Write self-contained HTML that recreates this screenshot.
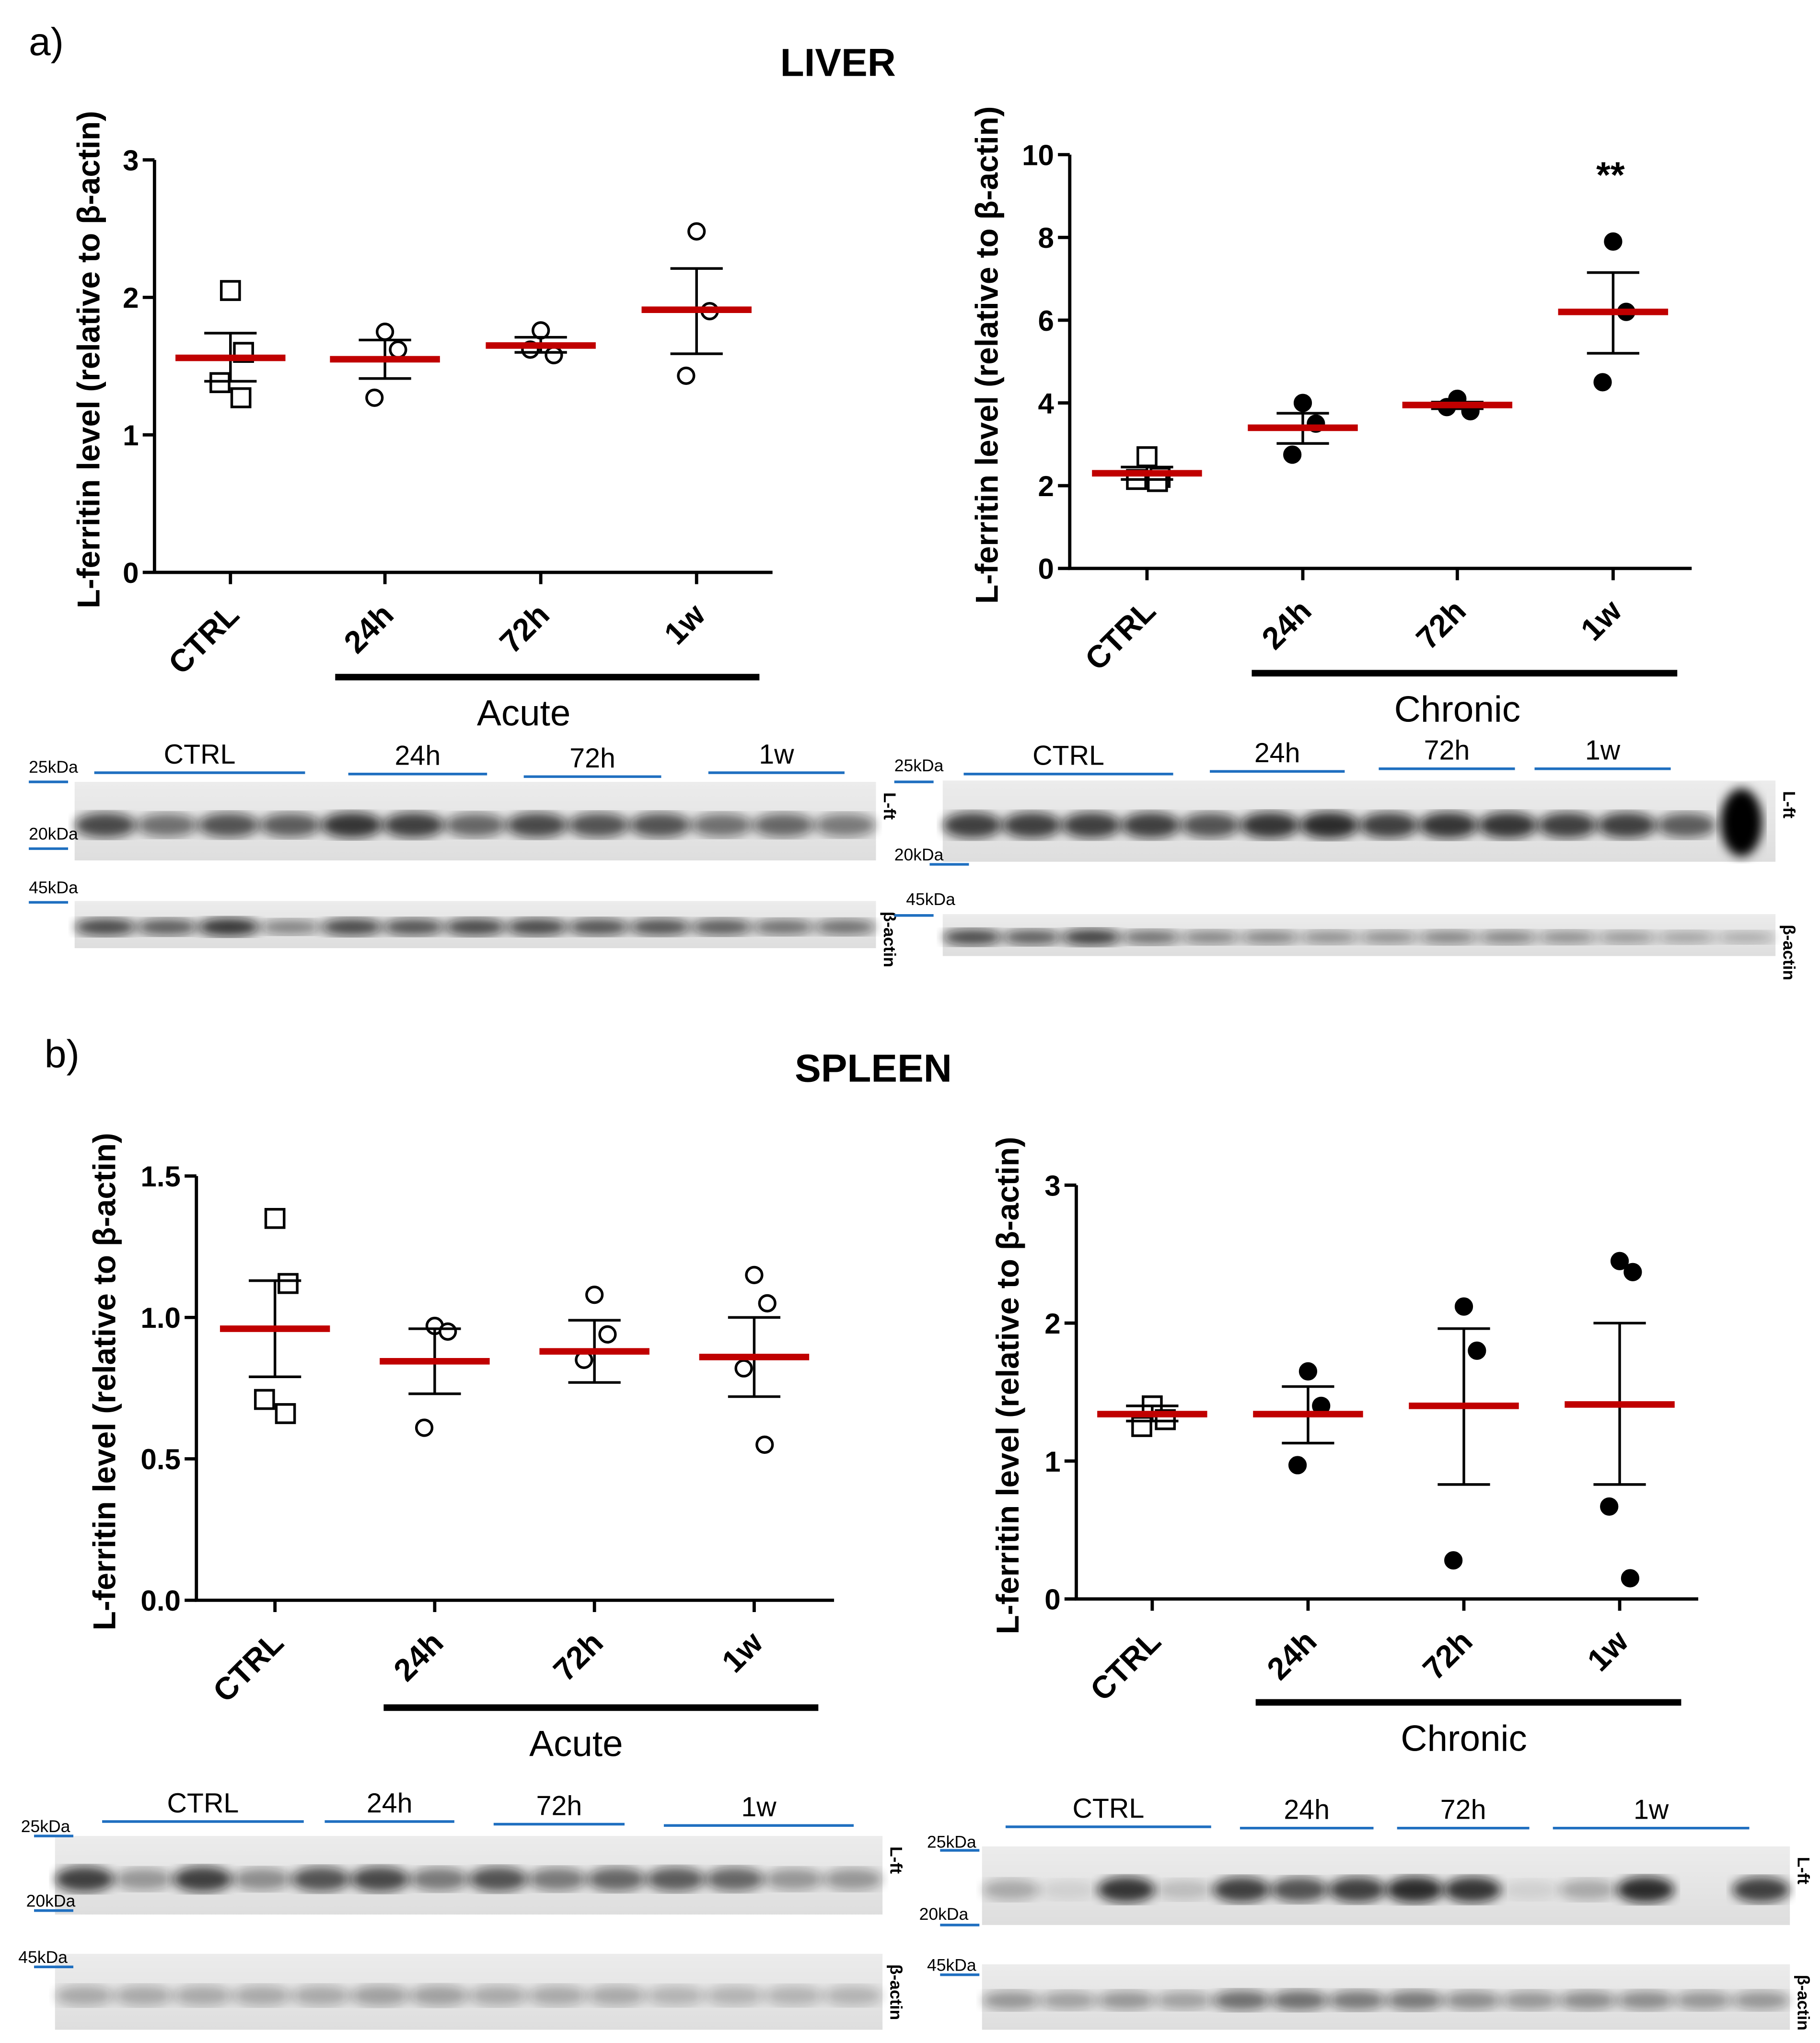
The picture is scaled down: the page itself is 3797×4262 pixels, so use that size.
<!DOCTYPE html>
<html><head><meta charset="utf-8">
<style>
html,body{margin:0;padding:0;background:#fff;}
svg{display:block;}
text{font-family:"Liberation Sans",sans-serif;}
</style></head>
<body>
<svg id="fig" width="3797" height="4262" viewBox="0 0 1390 1560" xmlns="http://www.w3.org/2000/svg">
<defs>
<filter id="blur1"><feGaussianBlur stdDeviation="4"/></filter>
<linearGradient id="blotbg" x1="0" x2="0" y1="0" y2="1"><stop offset="0" stop-color="#ececec"/><stop offset="1" stop-color="#dedede"/></linearGradient>
</defs>
<text x="22" y="42" font-size="30">a)</text>
<text x="640" y="58" font-size="30" font-weight="bold" text-anchor="middle">LIVER</text>
<text x="34" y="815" font-size="30">b)</text>
<text x="667" y="826" font-size="30" font-weight="bold" text-anchor="middle">SPLEEN</text>
<g id="charts"></g>
<g id="blots"></g>
</svg>
<script>
const categories = ["CTRL","24h","72h","1w"];
// Liver acute
const liverAcutePoints = [[2.05,1.6,1.38,1.27],[1.75,1.62,1.27],[1.76,1.58,1.62],[2.48,1.9,1.43]];
const liverAcuteMean = [1.56,1.55,1.65,1.91];
const liverAcuteHi = [1.74,1.69,1.71,2.21];
const liverAcuteLo = [1.39,1.41,1.6,1.59];
const liverAcuteTicks = [0,1,2,3];
// Liver chronic
const liverChronicPoints = [[2.7,2.2,2.15,2.1],[4.0,3.5,2.75],[4.1,3.8,3.9],[7.9,6.2,4.5]];
const liverChronicMean = [2.3,3.4,3.95,6.2];
const liverChronicHi = [2.45,3.75,4.02,7.15];
const liverChronicLo = [2.15,3.02,3.86,5.2];
const liverChronicTicks = [0,2,4,6,8,10];
// Spleen acute
const spleenAcutePoints = [[1.35,1.12,0.71,0.66],[0.97,0.95,0.61],[1.08,0.94,0.85],[1.15,1.05,0.82,0.55]];
const spleenAcuteMean = [0.96,0.845,0.88,0.86];
const spleenAcuteHi = [1.13,0.96,0.99,1.0];
const spleenAcuteLo = [0.79,0.73,0.77,0.72];
const spleenAcuteTicks = [0,0.5,1.0,1.5];
// Spleen chronic
const spleenChronicPoints = [[1.4,1.3,1.25],[1.65,1.4,0.97],[2.12,1.8,0.28],[2.45,2.37,0.67,0.15]];
const spleenChronicMean = [1.34,1.34,1.4,1.41];
const spleenChronicHi = [1.4,1.54,1.96,2.0];
const spleenChronicLo = [1.29,1.13,0.83,0.83];
const spleenChronicTicks = [0,1,2,3];

const NS="http://www.w3.org/2000/svg";
function mk(tag, attrs, parent){const e=document.createElementNS(NS,tag);for(const k in attrs)e.setAttribute(k,attrs[k]);parent.appendChild(e);return e;}
const charts=document.getElementById('charts');

function panel(id,cfg){
  const g=mk('g',{},charts);
  
  
  const ymax=cfg.ticks[cfg.ticks.length-1];
  const ys=v=>cfg.y0-(cfg.y0-cfg.yTop)*v/ymax;
  const xs=i=>cfg.xs[i];
  const ax=mk('path',{d:`M${cfg.ax} ${cfg.yTop} V${cfg.y0} H${cfg.xEnd}`,stroke:'#000','stroke-width':2.5,fill:'none'},g);
  
  
  cfg.ticks.forEach(t=>{
    mk('line',{x1:cfg.ax-9,x2:cfg.ax,y1:ys(t),y2:ys(t),stroke:'#000','stroke-width':2.5},g);
    const tl=mk('text',{x:cfg.ax-12,y:ys(t)+8,'font-size':22,'font-weight':'bold','text-anchor':'end'},g);
    tl.textContent=cfg.fmt(t);
    
    
  });
  categories.forEach((c,i)=>{
    mk('line',{x1:xs(i),x2:xs(i),y1:cfg.y0,y2:cfg.y0+9,stroke:'#000','stroke-width':2.5},g);
    const cx=xs(i)+8, cy=cfg.y0+34;
    const tl=mk('text',{x:cx,y:cy,'font-size':24,'font-weight':'bold','text-anchor':'end',transform:`rotate(-45 ${cx} ${cy})`},g);
    tl.textContent=c;
    
    
    cfg.pts[i].forEach((v,j)=>{
      const px=xs(i)+(cfg.pts[i].length>1?[0,10,-8,8][j]:0);
      let m;
      if(i===0 && cfg.sq) m=mk('rect',{x:px-7,y:ys(v)-7,width:14,height:14,fill:'#fff',stroke:'#000','stroke-width':2},g);
      else m=mk('circle',{cx:px,cy:ys(v),r:6,fill:cfg.filled&&i>0?'#000':'#fff',stroke:'#000','stroke-width':2},g);
      
      
    });
    const e=mk('path',{d:`M${xs(i)} ${ys(cfg.hi[i])} V${ys(cfg.lo[i])} M${xs(i)-20} ${ys(cfg.hi[i])} H${xs(i)+20} M${xs(i)-20} ${ys(cfg.lo[i])} H${xs(i)+20}`,stroke:'#000','stroke-width':2,fill:'none'},g);
    
    
    const mn=mk('line',{x1:xs(i)-42,x2:xs(i)+42,y1:ys(cfg.mean[i]),y2:ys(cfg.mean[i]),stroke:'#c00000','stroke-width':5},g);
    
    
  });
  const yt=mk('text',{x:0,y:0,'font-size':24,'font-weight':'bold','text-anchor':'middle',transform:`translate(${cfg.ylx} ${(cfg.y0+cfg.yTop)/2-5}) rotate(-90)`},g);
  yt.textContent='L-ferritin level (relative to  β-actin)';
  
  
  const br=mk('line',{x1:cfg.bar[0],x2:cfg.bar[1],y1:cfg.bar[2],y2:cfg.bar[2],stroke:'#000','stroke-width':5},g);
  
  
  const bl=mk('text',{x:cfg.bar[3],y:cfg.bar[2]+37,'font-size':28,'text-anchor':'middle'},g);
  bl.textContent=cfg.group;
  
  
  return ys;
}
const f0=t=>String(t), f1=t=>t.toFixed(1);
panel('liver-acute',{ax:118,xEnd:590,y0:437,yTop:122,xs:[176,294,413,532],ticks:liverAcuteTicks,fmt:f0,pts:liverAcutePoints,mean:liverAcuteMean,hi:liverAcuteHi,lo:liverAcuteLo,sq:true,filled:false,ylx:76,bar:[256,580,517,400],group:'Acute'});
panel('liver-chronic',{ax:817,xEnd:1292,y0:434,yTop:118,xs:[876,995,1113,1232],ticks:liverChronicTicks,fmt:f0,pts:liverChronicPoints,mean:liverChronicMean,hi:liverChronicHi,lo:liverChronicLo,sq:true,filled:true,ylx:762,bar:[956,1281,514,1113],group:'Chronic'});
const st=mk('text',{x:1230,y:143,'font-size':28,'font-weight':'bold','text-anchor':'middle'},charts);
st.textContent='**';


panel('spleen-acute',{ax:150,xEnd:637,y0:1222,yTop:898,xs:[210,332,454,576],ticks:spleenAcuteTicks,fmt:f1,pts:spleenAcutePoints,mean:spleenAcuteMean,hi:spleenAcuteHi,lo:spleenAcuteLo,sq:true,filled:false,ylx:88,bar:[293,625,1304,440],group:'Acute'});
panel('spleen-chronic',{ax:822,xEnd:1297,y0:1221,yTop:905,xs:[880,999,1118,1237],ticks:spleenChronicTicks,fmt:f0,pts:spleenChronicPoints,mean:spleenChronicMean,hi:spleenChronicHi,lo:spleenChronicLo,sq:true,filled:true,ylx:778,bar:[959,1284,1300,1118],group:'Chronic'});

// Western blots
const blots=document.getElementById('blots');
function blot(id,x,y,w,h,intens,side){
  const g=mk('g',{},blots);
  
  
  mk('rect',{x:x,y:y,width:w,height:h,fill:'url(#blotbg)'},g);
  const n=intens.length;
  const bw=w/n;
  intens.forEach((v,i)=>{
    mk('ellipse',{cx:x+bw*(i+0.5),cy:y+h*0.55,rx:bw*0.5,ry:h*0.12+v*3,fill:'#111',opacity:v*0.9,filter:'url(#blur1)'},g);
  });
  const t=mk('text',{x:0,y:0,'font-size':13,'font-weight':'bold',transform:`translate(${x+w+6} ${y+8}) rotate(90)`},g);
  t.textContent=side;
}
function mw(x,y,label,lx,ly){
  const t=mk('text',{x:lx,y:ly,'font-size':13},blots);
  t.textContent=label;
  
  
  mk('line',{x1:x,x2:x+30,y1:y,y2:y,stroke:'#1f6fc0','stroke-width':2},blots);
}
function lanes(list){
  list.forEach(([x1,x2,y,lbl])=>{
    mk('line',{x1:x1,x2:x2,y1:y,y2:y,stroke:'#1f6fc0','stroke-width':2},blots);
    const t=mk('text',{x:(x1+x2)/2,y:y-7,'font-size':21,'text-anchor':'middle'},blots);
    t.textContent=lbl;
    
    
  });
}
lanes([[72,233,590,'CTRL'],[266,372,591,'24h'],[400,505,593,'72h'],[541,645,590,'1w']]);
blot('liver-acute-lft-blot',57,597,612,60,[.8,.6,.75,.7,.9,.85,.65,.8,.75,.75,.6,.65,.55],'L-ft');
blot('liver-acute-actin-blot',57,688,612,36,[.8,.7,.9,.5,.8,.75,.8,.8,.75,.75,.7,.6,.6],'β-actin');
mw(22,597,'25kDa',22,590); mw(22,648,'20kDa',22,641); mw(22,689,'45kDa',22,682);
lanes([[736,896,591,'CTRL'],[924,1027,589,'24h'],[1053,1157,587,'72h'],[1172,1276,587,'1w']]);
blot('liver-chronic-lft-blot',720,596,636,62,[.85,.85,.85,.85,.75,.9,.95,.85,.9,.9,.85,.85,.7,.0],'L-ft');
mk('ellipse',{cx:1330,cy:628,rx:16,ry:26,fill:'#000',filter:'url(#blur1)'},blots);
blot('liver-chronic-actin-blot',720,698,636,32,[.8,.7,.85,.6,.5,.5,.45,.45,.5,.5,.45,.4,.35,.3],'β-actin');
mw(683,597,'25kDa',683,589); mw(710,660,'20kDa',683,657); mw(683,699,'45kDa',692,691);
lanes([[78,232,1391,'CTRL'],[248,347,1391,'24h'],[377,477,1393,'72h'],[507,652,1394,'1w']]);
blot('spleen-acute-lft-blot',42,1402,632,60,[.85,.4,.85,.45,.75,.8,.55,.75,.55,.65,.7,.65,.4,.4],'L-ft');
blot('spleen-acute-actin-blot',42,1492,632,58,[.3,.3,.3,.3,.3,.35,.35,.3,.3,.3,.25,.25,.25,.25],'β-actin');
mw(26,1402,'25kDa',16,1399); mw(26,1459,'20kDa',20,1456); mw(26,1502,'45kDa',14,1499);
lanes([[768,925,1395,'CTRL'],[947,1049,1396,'24h'],[1067,1168,1396,'72h'],[1186,1336,1396,'1w']]);
blot('spleen-chronic-lft-blot',750,1410,617,60,[.3,.1,.9,.2,.85,.75,.85,.95,.9,.1,.3,.95,.0,.85],'L-ft');
blot('spleen-chronic-actin-blot',750,1500,617,50,[.4,.35,.4,.35,.6,.6,.55,.55,.45,.4,.45,.45,.4,.4],'β-actin');
mw(718,1413,'25kDa',708,1411); mw(718,1470,'20kDa',702,1466); mw(718,1508,'45kDa',708,1505);
</script>
</body></html>
